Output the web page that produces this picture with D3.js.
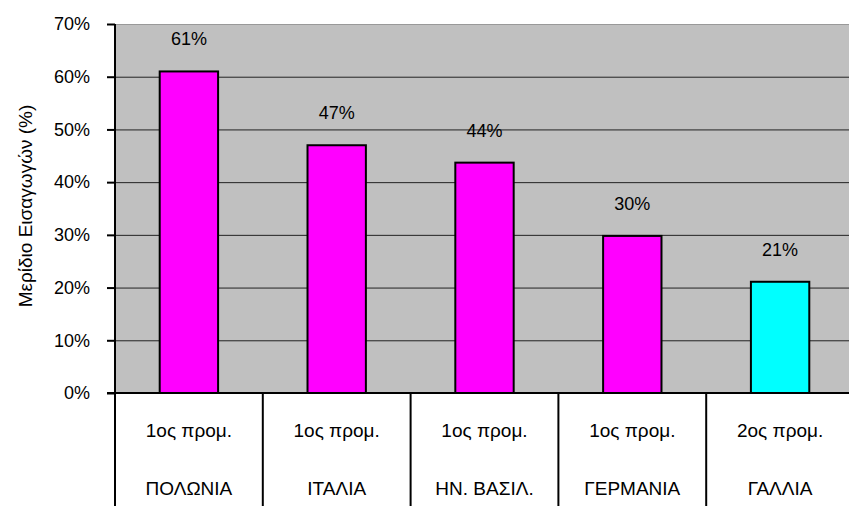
<!DOCTYPE html>
<html>
<head>
<meta charset="utf-8">
<script src="https://cdn.jsdelivr.net/npm/d3@7"></script>
<style>
  body { margin: 0; background: #fff; }
  text { font-family: "Liberation Sans", Arial, sans-serif; fill: #000; }
</style>
</head>
<body>
<div id="chart"></div>
<script>
  var countries = ["ΠΟΛΩΝΙΑ", "ΙΤΑΛΙΑ", "ΗΝ. ΒΑΣΙΛ.", "ΓΕΡΜΑΝΙΑ", "ΓΑΛΛΙΑ"]
  var ranks = ["1ος προμ.", "1ος προμ.", "1ος προμ.", "1ος προμ.", "2ος προμ."]
  var shares = [61, 47, 43.7, 29.8, 21.1]
  var yTicks = [0, 10, 20, 30, 40, 50, 60, 70]

  var width = 849, height = 506
  var margin = { top: 24, right: -5, bottom: 113, left: 115 },
    plot_width = width - margin.left - margin.right,
    plot_height = height - margin.top - margin.bottom;

  var svg = d3.select("#chart").append("svg")
    .attr("width", width)
    .attr("height", height)

  var g = svg.append("g")
    .attr("transform", "translate(" + margin.left + "," + margin.top + ")");

  var x = d3.scaleBand()
    .domain(d3.range(countries.length))
    .range([0, plot_width])
    .paddingInner(0)
    .paddingOuter(0);

  var y = d3.scaleLinear()
    .domain([0, 70])
    .range([plot_height, 0]);

  // grey plot area
  g.append("rect")
    .attr("width", plot_width)
    .attr("height", plot_height)
    .style("fill", "#c0c0c0")

  // gridlines
  g.selectAll("line.grid")
    .data(yTicks.slice(1))
    .enter().append("line")
    .attr("class", "grid")
    .attr("x1", 0).attr("x2", plot_width)
    .attr("y1", function (d) { return y(d) + 0.5; })
    .attr("y2", function (d) { return y(d) + 0.5; })
    .style("stroke", function (d) { return d === 70 ? "#999" : "#222"; })
    .style("stroke-width", 1)

  var barWidth = x.bandwidth() * 0.395

  g.selectAll("rect.bar")
    .data(shares)
    .enter().append("rect")
    .attr("class", "bar")
    .attr("x", function (d, i) { return x(i) + (x.bandwidth() - barWidth) / 2; })
    .attr("width", barWidth)
    .attr("y", function (d) { return y(d); })
    .attr("height", function (d) { return plot_height - y(d); })
    .style("fill", function (d, i) { return ranks[i].charAt(0) === "2" ? "#00ffff" : "#ff00ff"; })
    .style("stroke", "#000")
    .style("stroke-width", 2)

  g.selectAll("text.val")
    .data(shares)
    .enter().append("text")
    .attr("class", "val")
    .attr("x", function (d, i) { return x(i) + x.bandwidth() / 2; })
    .attr("y", function (d) { return y(d) - 26; })
    .attr("text-anchor", "middle")
    .style("font-size", "18px")
    .text(function (d) { return Math.round(d) + "%"; })

  // y axis
  var yAxis = d3.axisLeft(y)
    .tickValues(yTicks)
    .tickSize(8)
    .tickPadding(17)
    .tickFormat(function (d) { return d + "%"; });

  var ya = g.append("g")
    .attr("class", "y axis")
    .call(yAxis)
  ya.select(".domain").remove()
  ya.selectAll("line").style("stroke", "#000").style("stroke-width", 2)
  ya.selectAll("text").style("font-size", "18px").style("font-family", "Liberation Sans, Arial, sans-serif")

  g.append("line")
    .attr("x1", 0).attr("x2", 0)
    .attr("y1", 0).attr("y2", height - margin.top)
    .style("stroke", "#000").style("stroke-width", 2)

  g.append("line")
    .attr("x1", -8).attr("x2", plot_width)
    .attr("y1", plot_height).attr("y2", plot_height)
    .style("stroke", "#000").style("stroke-width", 2)

  // category table separators
  g.selectAll("line.sep")
    .data(d3.range(1, countries.length))
    .enter().append("line")
    .attr("class", "sep")
    .attr("x1", function (d) { return x(d); })
    .attr("x2", function (d) { return x(d); })
    .attr("y1", plot_height)
    .attr("y2", height - margin.top)
    .style("stroke", "#000").style("stroke-width", 2)

  g.selectAll("text.rank")
    .data(ranks)
    .enter().append("text")
    .attr("class", "rank")
    .attr("x", function (d, i) { return x(i) + x.bandwidth() / 2; })
    .attr("y", plot_height + 44)
    .attr("text-anchor", "middle")
    .style("font-size", "19px")
    .text(function (d) { return d; })

  g.selectAll("text.country")
    .data(countries)
    .enter().append("text")
    .attr("class", "country")
    .attr("x", function (d, i) { return x(i) + x.bandwidth() / 2; })
    .attr("y", plot_height + 102)
    .attr("text-anchor", "middle")
    .style("font-size", "19px")
    .text(function (d) { return d; })

  svg.append("text")
    .attr("transform", "translate(32,206) rotate(-90)")
    .attr("text-anchor", "middle")
    .style("font-size", "19px")
    .text("Μερίδιο Εισαγωγών (%)")
</script>
</body>
</html>
